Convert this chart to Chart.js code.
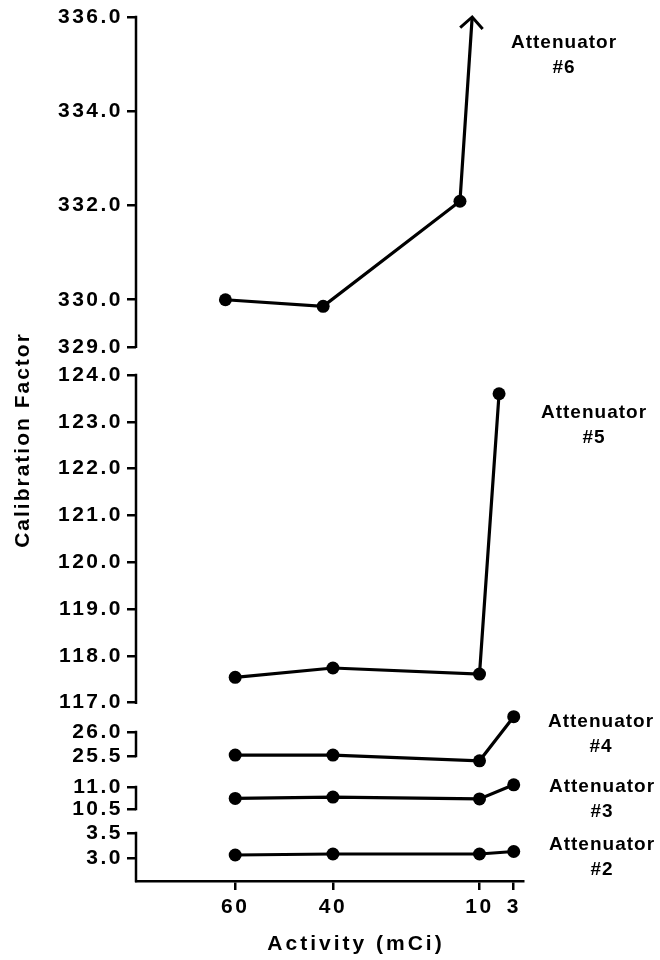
<!DOCTYPE html>
<html>
<head>
<meta charset="utf-8">
<script src="https://cdn.jsdelivr.net/npm/chart.js@4/dist/chart.umd.min.js"></script>
<style>
html, body { margin: 0; padding: 0; background: #fff; }
</style>
</head>
<body>
<canvas id="myChart" width="660" height="960"></canvas>
<script>
// activity (mCi) where each curve's points sit
var activity = [60, 40, 10, 3];
var activity5 = [60, 40, 10, 6];
var activity6 = [62, 42, 14, 11.5]; // last one is the arrow tip

// calibration factor per attenuator
var att2 = [3.06, 3.08, 3.08, 3.13];
var att3 = [10.74, 10.77, 10.73, 11.05];
var att4 = [25.52, 25.52, 25.40, 26.32];
var att5 = [117.54, 117.74, 117.61, 123.60];
var att6 = [330.00, 329.86, 332.09, 336.00];

// tick labels
var xTicks = [60, 40, 10, 3];
var ticks2 = [3.0, 3.5];
var ticks3 = [10.5, 11.0];
var ticks4 = [25.5, 26.0];
var ticks5 = [117, 118, 119, 120, 121, 122, 123, 124];
var ticks6 = [329, 330, 332, 334, 336];

var FONT = '"Liberation Sans", Arial, Helvetica, sans-serif';
var tickFont = { family: FONT, size: 21, weight: 'bold' };

function pts(xs, ys) {
    return xs.map(function (x, i) { return { x: x, y: ys[i] }; });
}

function series(label, xs, ys, axis, radius) {
    return {
        label: label,
        data: pts(xs, ys),
        yAxisID: axis,
        borderColor: '#000',
        backgroundColor: '#000',
        borderWidth: 3.2,
        pointRadius: radius || 6.5,
        pointBorderWidth: 0,
        tension: 0,
        fill: false,
        clip: false
    };
}

function yScale(min, max, ticks, weight, order) {
    return {
        type: 'linear',
        position: 'left',
        stack: 'cal',
        stackWeight: weight,
        weight: order,
        min: min,
        max: max,
        offset: false,
        border: { display: false },
        grid: { drawOnChartArea: false, drawTicks: true, tickLength: 9, color: '#000', lineWidth: 2.5 },
        ticks: {
            color: '#000', font: tickFont, padding: 4, autoSkip: false,
            callback: function (v) { return v.toFixed(1); }
        },
        afterBuildTicks: function (s) { s.ticks = ticks.map(function (v) { return { value: v }; }); },
        afterFit: function (s) { s.width = 136; }
    };
}

var panels = [
    { id: 'y6', ticks: ticks6 },
    { id: 'y5', ticks: ticks5 },
    { id: 'y4', ticks: ticks4 },
    { id: 'y3', ticks: ticks3 },
    { id: 'y2', ticks: ticks2, toAxis: true }
];

var notes = [
    { text: 'Attenuator', num: '#6', x: 564, y: 43 },
    { text: 'Attenuator', num: '#5', x: 594, y: 413 },
    { text: 'Attenuator', num: '#4', x: 601, y: 722 },
    { text: 'Attenuator', num: '#3', x: 602, y: 787 },
    { text: 'Attenuator', num: '#2', x: 602, y: 845 }
];

var decor = {
    id: 'decor',
    beforeDraw: function (chart) {
        chart.ctx.letterSpacing = '2.5px';
    },
    afterDraw: function (chart) {
        var ctx = chart.ctx, area = chart.chartArea;
        ctx.save();
        ctx.strokeStyle = '#000';
        ctx.lineWidth = 2.5;
        ctx.lineCap = 'square';
        // broken y axis segments
        panels.forEach(function (p) {
            var s = chart.scales[p.id];
            var top = s.getPixelForValue(Math.max.apply(null, p.ticks));
            var bottom = p.toAxis ? area.bottom : s.getPixelForValue(Math.min.apply(null, p.ticks));
            ctx.beginPath();
            ctx.moveTo(area.left, top);
            ctx.lineTo(area.left, bottom);
            ctx.stroke();
        });
        // arrow head on attenuator 6
        var d = chart.getDatasetMeta(4).data;
        var tip = d[3], prev = d[2];
        var a = Math.atan2(tip.y - prev.y, tip.x - prev.x), L = 16;
        ctx.lineWidth = 3;
        ctx.lineCap = 'butt';
        ctx.beginPath();
        ctx.moveTo(tip.x + L * Math.cos(a + 2.36), tip.y + L * Math.sin(a + 2.36));
        ctx.lineTo(tip.x, tip.y);
        ctx.lineTo(tip.x + L * Math.cos(a - 2.36), tip.y + L * Math.sin(a - 2.36));
        ctx.stroke();

        ctx.fillStyle = '#000';
        ctx.textAlign = 'center';
        ctx.textBaseline = 'middle';
        ctx.font = 'bold 19px ' + FONT;
        ctx.letterSpacing = '1px';
        notes.forEach(function (n) {
            ctx.fillText(n.text, n.x, n.y);
            ctx.fillText(n.num, n.x, n.y + 25);
        });

        ctx.font = 'bold 21px ' + FONT;
        ctx.letterSpacing = '3px';
        ctx.fillText('Activity (mCi)', 356, 944);
        ctx.letterSpacing = '2px';
        ctx.save();
        ctx.translate(23, 440);
        ctx.rotate(-Math.PI / 2);
        ctx.fillText('Calibration Factor', 0, 0);
        ctx.restore();
        ctx.restore();
    }
};

var ctx = document.getElementById('myChart');
var myChart = new Chart(ctx, {
    type: 'line',
    data: {
        datasets: [
            series('Attenuator #2', activity, att2, 'y2'),
            series('Attenuator #3', activity, att3, 'y3'),
            series('Attenuator #4', activity, att4, 'y4'),
            series('Attenuator #5', activity5, att5, 'y5'),
            series('Attenuator #6', activity6, att6, 'y6', [6.5, 6.5, 6.5, 0])
        ]
    },
    options: {
        responsive: false,
        animation: false,
        layout: { padding: { top: 17, right: 137, bottom: 34, left: 0 } },
        plugins: { legend: { display: false }, tooltip: { enabled: false } },
        scales: {
            x: {
                type: 'linear',
                min: 1.1,
                max: 80.3,
                reverse: true,
                border: { display: true, color: '#000', width: 2.5 },
                grid: { drawOnChartArea: false, tickLength: 9, color: '#000', lineWidth: 2.5 },
                ticks: { color: '#000', font: tickFont, padding: 5, autoSkip: false, maxRotation: 0 },
                afterBuildTicks: function (s) { s.ticks = xTicks.map(function (v) { return { value: v }; }); },
                afterFit: function (s) { s.height = 45; }
            },
            y6: yScale(328.70, 336.0, ticks6, 344, 5),
            y5: yScale(116.80, 124.30, ticks5, 351, 4),
            y4: yScale(25.1875, 26.417, ticks4, 59, 3),
            y3: yScale(10.227, 11.364, ticks3, 50, 2),
            y2: yScale(2.54, 3.74, ticks2, 60, 1)
        }
    },
    plugins: [decor]
});
</script>
</body>
</html>
